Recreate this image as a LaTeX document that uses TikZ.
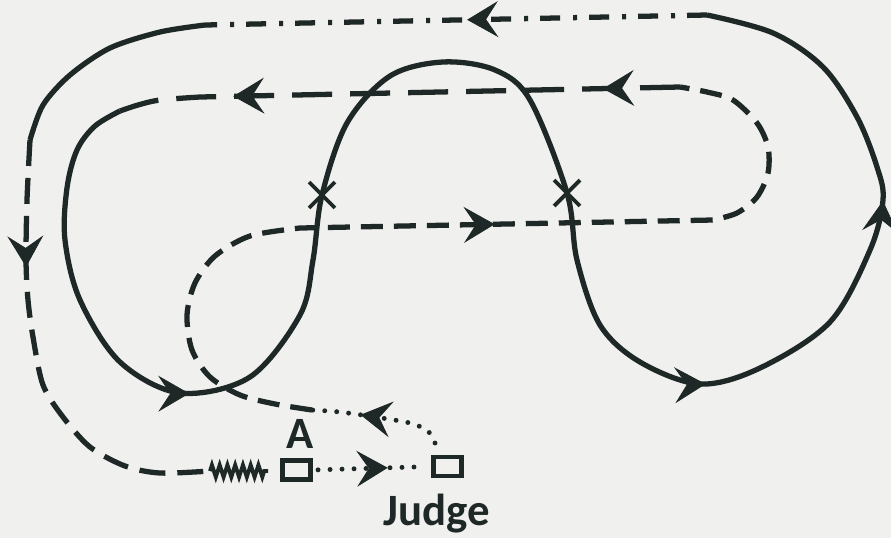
\documentclass[tikz,border=0pt]{standalone}
\usepackage{fontspec}
\setmainfont{Carlito}
\usetikzlibrary{arrows.meta, decorations.markings, decorations.pathmorphing, shapes.misc}
\definecolor{paper}{RGB}{240,240,238}
\definecolor{ink}{RGB}{30,40,38}

\begin{document}
\begin{tikzpicture}[
  x=0.02cm, y=-0.02cm,
  >={Stealth[length=6.2mm, width=7.2mm, inset=2.4mm, line width=0.5pt]},
  every node/.style={font=\bfseries\fontsize{25.5}{30}\selectfont, text=ink},
  stand/.style={draw=ink, line width=2.6pt, minimum width=0.56cm, minimum height=0.38cm, inner sep=0pt},
  xmark/.style={draw=ink, cross out, line width=2.2pt, minimum size=0.44cm, inner sep=0pt},
  route/.style={draw=ink, line width=3pt},
  shortdashes/.style={route, dash pattern=on 0.44cm off 0.22cm},
  longdashes/.style={route, dash pattern=on 0.8cm off 0.36cm},
  outerdashes/.style={route, dash pattern=on 0.52cm off 0.24cm},
  dotdash/.style={route, dash pattern=on 0.4cm off 0.24cm on 0.08cm off 0.26cm},
  walkdots/.style={route, line width=2.8pt, line cap=round, dash pattern=on 0pt off 0.24cm},
  arrowat/.style={postaction={decorate, decoration={markings, mark=at position #1 with {\arrow[ink]{>}}}}}
]
\path[fill=paper, use as bounding box] (0,0) rectangle (891,538);

% Stands and labels
\node[stand] (a) at (296.5,470) {};
\node[stand] (judge) at (447.5,466.5) {};
\node[anchor=base] (alabel) at (300,448) {A};
\node[anchor=base] (judgelabel) at (437,525) {Judge};

% Crossing points
\node[xmark] (x1) at (322,195) {};
\node[xmark] (x2) at (567,193) {};

% Turning points of the course
\coordinate (turn) at (435,443);
\coordinate (joinlow) at (312,410);
\coordinate (joinhigh) at (680,87);
\coordinate (solidstart) at (120,111);
\coordinate (topright) at (707,15);
\coordinate (topleft) at (205,25);
\coordinate (leftdown) at (30,140);
\coordinate (springstart) at (210,471);
\coordinate (springend) at (268,471);

% Main solid track
\draw[route, arrowat=7.3cm, arrowat=25.8cm, arrowat=31.3cm]
  plot[smooth, tension=0.55] coordinates {(solidstart) (95,126) (77,150) (67,188) (65,240)
    (80,300) (120,362) (180,393) (250,377) (300,315) (313,260) (x1) (347,123) (390,76)
    (443,62) (495,70) (530,100) (x2) (577,260) (600,325) (640,362) (700,384) (760,368)
    (830,322) (870,250) (883,200) (877,167) (857,117) (823,67) (773,33) (topright)};

% Top line back to the left
\draw[dotdash, arrowat=4.8cm] (topright) -- (topleft);
\draw[route] plot[smooth] coordinates {(topleft) (160,32) (110,48) (70,75) (43,105) (leftdown)};

% Outer dashed line down to A
\draw[outerdashes, arrowat=2.54cm]
  plot[smooth] coordinates {(leftdown) (27,200) (26,260) (28,300) (33,337) (43,385) (63,417)
    (90,447) (125,466) (160,473) (springstart)};
\draw[ink, line width=2.2pt, decorate, decoration={zigzag, segment length=0.155cm, amplitude=0.12cm}]
  (springstart) -- (springend);

% A to judge and back
\draw[walkdots, arrowat=1.5cm, shorten <=3pt, shorten >=3pt] (a.east) -- (judge.west);
\draw[walkdots, arrowat=1.68cm]
  plot[smooth] coordinates {(turn) (428,431) (410,423) (375,417) (340,412) (joinlow)};

% Inner dashed loop
\draw[shortdashes, arrowat=10.6cm]
  plot[smooth] coordinates {(joinlow) (275,404) (240,395) (210,377) (192,350) (187,315)
    (195,283) (215,256) (250,236) (300,228)}
  -- plot[smooth] coordinates {(713,220) (737,213) (757,197) (768,173) (768,147) (757,123)
    (733,100) (707,92) (joinhigh)};
\draw[longdashes, arrowat=1.54cm, arrowat=8.94cm]
  (joinhigh) -- plot[smooth] coordinates {(200,97) (160,100) (138,105) (solidstart)};

\end{tikzpicture}
\end{document}
